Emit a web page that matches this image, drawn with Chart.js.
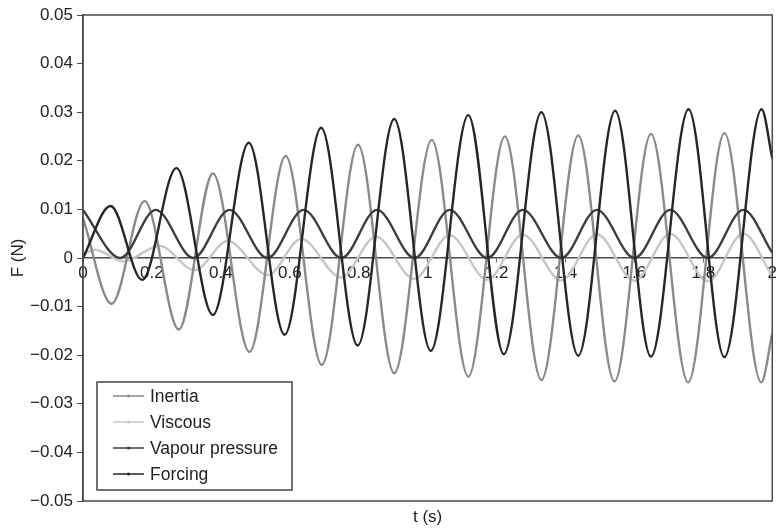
<!DOCTYPE html>
<html>
<head>
<meta charset="utf-8">
<script src="https://cdn.jsdelivr.net/npm/chart.js@4/dist/chart.umd.min.js"></script>
<style>
  html, body { margin: 0; padding: 0; background: #fff; }
  #wrap { width: 778px; height: 530px; }
</style>
</head>
<body>
<div id="wrap"><canvas id="forceChart" width="778" height="530"></canvas></div>
<script>
// ============================================================
// Force components on the oscillating body, 0 - 2 s
// Each series is given by its turning points (peaks / troughs)
// plus its values at t = 0 and t = 2 s.
// Monotone cubic interpolation rounds the curve between them.
// ============================================================

// ── Inertia ──────────────────────────────────────────────────
const inertiaT = [0, 0.083, 0.179, 0.278, 0.377, 0.483, 0.588, 0.693, 0.798, 0.903,
                  1.012, 1.118, 1.224, 1.330, 1.437, 1.542, 1.648, 1.756, 1.861, 1.968, 2.0];
const inertiaF = [0.0082, -0.0094, 0.0117, -0.0147, 0.0174, -0.0193, 0.0210, -0.0220, 0.0233, -0.0237,
                  0.0243, -0.0244, 0.0250, -0.0251, 0.0252, -0.0254, 0.0255, -0.0256, 0.0257, -0.0256, -0.0155];

// ── Viscous ──────────────────────────────────────────────────
const viscousT = [0, 0.035, 0.117, 0.222, 0.324, 0.420, 0.536, 0.633, 0.749, 0.850,
                  0.961, 1.064, 1.173, 1.276, 1.388, 1.491, 1.600, 1.704, 1.813, 1.916, 2.0];
const viscousF = [0.0008, 0.0017, -0.0007, 0.0025, -0.0025, 0.0035, -0.0035, 0.0039, -0.0040, 0.0044,
                  -0.0043, 0.0047, -0.0045, 0.0048, -0.0046, 0.0049, -0.0047, 0.0050, -0.0048, 0.0050, -0.0037];

// ── Vapour pressure ──────────────────────────────────────────
const vapourT = [0, 0.108, 0.211, 0.320, 0.425, 0.535, 0.640, 0.750, 0.853, 0.962,
                 1.064, 1.173, 1.276, 1.388, 1.491, 1.600, 1.704, 1.813, 1.916, 2.0];
const vapourF = [0.0099, 0, 0.0099, 0, 0.0099, 0, 0.0099, 0, 0.0099, 0,
                 0.0099, 0, 0.0099, 0, 0.0099, 0, 0.0099, 0, 0.0099, 0.0011];

// ── Forcing ──────────────────────────────────────────────────
const forcingT = [0, 0.080, 0.172, 0.271, 0.377, 0.481, 0.585, 0.691, 0.797, 0.903,
                  1.009, 1.118, 1.221, 1.330, 1.437, 1.544, 1.648, 1.757, 1.861, 1.969, 2.0];
const forcingF = [0, 0.0107, -0.0045, 0.0185, -0.0117, 0.0237, -0.0158, 0.0268, -0.0180, 0.0286,
                  -0.0191, 0.0294, -0.0198, 0.0300, -0.0201, 0.0303, -0.0203, 0.0306, -0.0204, 0.0306, 0.0205];

// Axis limits and tick steps
const tRange = [0, 2];
const tStep  = 0.2;
const fRange = [-0.05, 0.05];
const fStep  = 0.01;

const FONT = '"Liberation Sans", Arial, Helvetica, sans-serif';
const TEXT = '#222';
const AXIS = '#4a4a4a';

// Pair a time list with a force list → [{x, y}, ...]
const toPoints = (ts, fs) => ts.map((t, i) => ({ x: t, y: fs[i] }));

// Common line style for every series
const series = (label, ts, fs, color, order) => ({
    label,
    data: toPoints(ts, fs),
    borderColor: color,
    backgroundColor: color,
    borderWidth: 2.4,
    pointRadius: 0,
    cubicInterpolationMode: 'monotone',
    order
});


// ── Plot frame: box round the whole plot area ────────────────
const plotFrame = {
    id: 'plotFrame',
    afterDatasetsDraw(chart) {
        const { ctx, chartArea: a } = chart;
        ctx.save();
        ctx.strokeStyle = AXIS;
        ctx.lineWidth = 1.5;
        ctx.strokeRect(a.left, a.top, a.right - a.left, a.bottom - a.top);
        ctx.restore();
    }
};


// ── Boxed legend in the lower-left corner ────────────────────
const boxLegend = {
    id: 'boxLegend',
    afterDraw(chart) {
        const ctx = chart.ctx;
        const box = { x: 97, y: 382, w: 195, h: 108 };
        ctx.save();
        ctx.fillStyle = '#fff';
        ctx.fillRect(box.x, box.y, box.w, box.h);
        ctx.strokeStyle = '#444';
        ctx.lineWidth = 1.5;
        ctx.strokeRect(box.x, box.y, box.w, box.h);

        ctx.font = '17.5px ' + FONT;
        ctx.textBaseline = 'middle';
        chart.data.datasets.forEach((ds, i) => {
            const cy = 396 + i * 26;
            ctx.strokeStyle = ds.borderColor;
            ctx.lineWidth = 1.5;
            ctx.beginPath();
            ctx.moveTo(113, cy);
            ctx.lineTo(144, cy);
            ctx.stroke();
            ctx.fillStyle = ds.borderColor;
            ctx.beginPath();
            ctx.arc(128.5, cy, 1.6, 0, Math.PI * 2);
            ctx.fill();
            ctx.fillStyle = TEXT;
            ctx.fillText(ds.label, 150, cy + 1);
        });
        ctx.restore();
    }
};


new Chart(document.getElementById('forceChart'), {
    type: 'line',
    data: {
        datasets: [
            series('Inertia',         inertiaT, inertiaF, '#8a8a8a', 3),
            series('Viscous',         viscousT, viscousF, '#c6c6c6', 4),
            series('Vapour pressure', vapourT,  vapourF,  '#3d3d3d', 2),
            series('Forcing',         forcingT, forcingF, '#262626', 1)
        ]
    },
    options: {
        responsive: false,
        animation: false,
        layout: { padding: { top: 15, right: 3, left: 0, bottom: 0 } },
        plugins: {
            legend:  { display: false },
            tooltip: { enabled: false }
        },
        scales: {
            // Time axis drawn along F = 0, labels just under it
            x: {
                type: 'linear',
                position: { y: 0 },
                min: tRange[0],
                max: tRange[1],
                ticks: {
                    stepSize: tStep,
                    padding: 1,
                    color: TEXT,
                    font: { family: FONT, size: 17 },
                    maxRotation: 0,
                    callback: v => String(Math.round(v * 10) / 10)
                },
                grid:   { drawOnChartArea: false, tickLength: 4, color: '#666' },
                border: { color: AXIS, width: 1.5 }
            },
            // Bottom axis only carries the "t (s)" title
            x2: {
                type: 'linear',
                axis: 'x',
                position: 'bottom',
                min: tRange[0],
                max: tRange[1],
                ticks:  { display: false },
                grid:   { display: false },
                border: { display: false },
                title: {
                    display: true,
                    text: 't (s)',
                    color: TEXT,
                    font: { family: FONT, size: 17 },
                    padding: { top: 0, bottom: 2 }
                },
                afterFit: s => { s.height = 29; }
            },
            y: {
                type: 'linear',
                position: 'left',
                min: fRange[0],
                max: fRange[1],
                ticks: {
                    stepSize: fStep,
                    padding: 4,
                    color: TEXT,
                    font: { family: FONT, size: 17 },
                    callback: v => {
                        const r = Math.round(v * 100) / 100;
                        return r === 0 ? '0' : r.toFixed(2).replace('-', '\u2212');
                    }
                },
                grid:   { drawOnChartArea: false, tickLength: 6, color: AXIS },
                border: { color: AXIS, width: 1.5 },
                title: {
                    display: true,
                    text: 'F (N)',
                    color: TEXT,
                    font: { family: FONT, size: 17 },
                    padding: { top: 8, bottom: 0 }
                },
                afterFit: s => { s.width = 83; }
            }
        }
    },
    plugins: [plotFrame, boxLegend]
});
</script>
</body>
</html>
